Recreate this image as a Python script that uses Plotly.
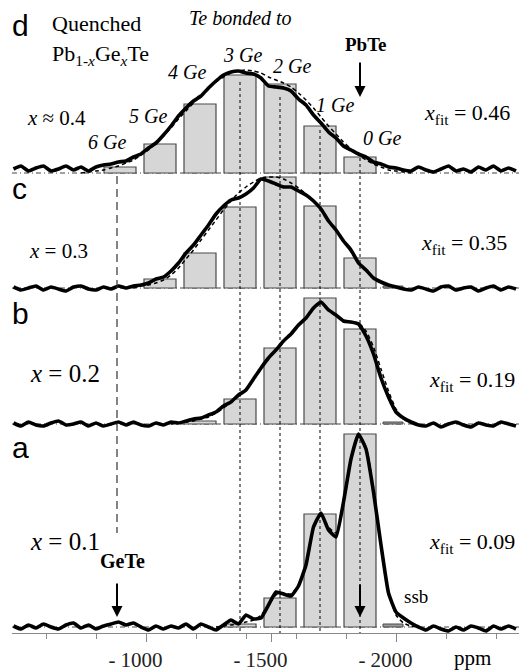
import plotly.graph_objects as go

# ---------------- data ----------------
# chemical shift sampling grid (ppm)
PPM = [-470, -500, -530, -560, -590, -620, -650, -680, -710, -740,
       -770, -800, -830, -860, -890, -920, -950, -980, -1010, -1040,
       -1070, -1100, -1130, -1160, -1190, -1220, -1250, -1280, -1310, -1340,
       -1370, -1400, -1430, -1460, -1490, -1520, -1550, -1580, -1610, -1640,
       -1670, -1700, -1730, -1760, -1790, -1820, -1850, -1880, -1910, -1940,
       -1970, -2000, -2030, -2060, -2090, -2120, -2150, -2180, -2210, -2240,
       -2270, -2300, -2330, -2360, -2390, -2420, -2450, -2480]

# measured spectra (relative intensity)
SPEC_A = [1, -2, 2, -1, 3, 0, -2, 2, 4, -1, 2, -2, 1, 3, 5, 2, 4, 0, -3, 1,
          -2, 1, -1, 3, -2, 3, 0, -3, 2,
          7, 3, 12, 8, 9, 22, 35, 33, 31, 41, 62, 100, 114, 97, 90, 125, 168,
          193, 178, 135, 82, 34, 15, 9, 4, 0,
          -3, 1, -2, -4, 0, -3, 1, -1, -4, 1, -2, 1, -2]
SPEC_B = [1, -2, 2, -1, -2, 1, 3, -1, 0, 2, -2, 1, -2, 0, 2, -1, 2, -1, -2, 1,
          -1, 2, 1,
          3, 5, 6, 9, 12, 18, 22, 29, 34, 45, 56, 66, 74, 83, 90, 99, 106, 116,
          122, 114, 109, 103, 102, 100, 88, 70, 46, 27, 12, 6, 2,
          -1, -2, 1, -3, 0, 2, -1, -3, 1, -1, -2, 2, 0, -2]
SPEC_C = [1, -2, 0, 2, -2, 1, -1, -3, 1, 2, -1, -2, 1, -1, 2,
          0, 2, 3, 5, 9, 11, 17, 25, 35, 43, 53, 63, 74, 82, 88, 90, 94, 100,
          109, 107, 104, 101, 101, 97, 93, 87, 79, 67, 58, 47, 38, 25, 18, 10,
          6, 3, 1,
          -1, -2, 1, -1, -3, 1, 2, -2, 0, 1, -3, 0, 2, -2, 1, -1]
SPEC_D = [4, 7, 2, 5, 7, 2, 4, 7, 3, 6, 2, 6, 8, 9, 11,
          12, 16, 19, 25, 30, 38, 47, 57, 65, 72, 77, 85, 92, 98, 101, 102,
          100, 99, 95, 87, 86, 85, 82, 74, 68, 58, 50, 41, 35, 27, 23, 19, 16,
          11, 9, 6, 5,
          3, 2, 6, 3, 1, 4, 7, 2, 4, 1, 6, 3, 7, 2, 5, 2]

# simulated (fit) spectra
FIT_A = [0] * 27 + [0, 1, 2, 3, 5, 7, 12, 22, 32, 34, 33, 42, 64, 98, 112,
                    100, 94, 124, 168, 192, 180, 140, 84, 36, 12, 4, 1, 0] + [0] * 13
FIT_B = [0] * 22 + [1, 2, 3, 5, 7, 11, 16, 22, 28, 34, 44, 55, 65, 74, 82, 90,
                    98, 106, 115, 121, 115, 109, 104, 102, 101, 93, 77, 55, 33,
                    15, 5, 1, 0] + [0] * 13
FIT_C = [0] * 17 + [2, 3, 5, 8, 13, 20, 29, 38, 48, 58, 68, 78, 87, 95, 101,
                    106, 110, 111, 111, 109, 105, 100, 94, 87, 78, 68, 58, 47,
                    36, 26, 17, 10, 6, 3, 1, 0] + [0] * 15
FIT_D = [0] * 10 + [1, 2, 3, 5, 7, 10, 13, 18, 23, 30, 37, 45, 54, 62, 70, 77,
                    84, 91, 96, 100, 102, 103, 102, 100, 96, 93, 90, 86, 80, 73,
                    65, 56, 47, 39, 31, 24, 18, 13, 9, 6, 3, 2, 1, 0] + [0] * 14

# Te bonded to n Ge: bar positions and heights per panel
GE_LABELS = ["6 Ge", "5 Ge", "4 Ge", "3 Ge", "2 Ge", "1 Ge", "0 Ge"]
BAR_PPM = [-896, -1056, -1216, -1376, -1536, -1696, -1856]
BARS_A = [0, 0, 0, 3, 29, 113, 193]
BARS_B = [0, 0, 3, 25, 76, 126, 95]
BARS_C = [0, 9, 35, 81, 111, 82, 30]
BARS_D = [6, 29, 69, 98, 89, 47, 16]
SSB_PPM = -1988
SSB_HEIGHTS = {"a": 3, "b": 2, "c": 2, "d": 0}

GETE_PPM = -884
PBTE_PPM = -1856

X_COMP = {"a": "x = 0.1", "b": "x = 0.2", "c": "x = 0.3", "d": "x ≈ 0.4"}
X_FIT = {"a": "0.09", "b": "0.19", "c": "0.35", "d": "0.46"}

TICK_VALS = [-1000, -1500, -2000]
TICK_TEXT = ["- 1000", "- 1500", "- 2000"]
MINOR_TICKS = [-600, -800, -1200, -1400, -1600, -1800, -2200, -2400]

# ---------------- layout helpers ----------------
W, H = 519, 672
ML, MR, MT, MB = 12, 0, 0, 39
PW, PH = W - ML - MR, H - MT - MB
X_RANGE = [-464, -2492]
SERIF = "Liberation Serif"
SANS = "Liberation Sans"

PANELS = ["a", "b", "c", "d"]
AXIS = {"a": "y", "b": "y2", "c": "y3", "d": "y4"}
BASE_PY = {"a": 627, "b": 424, "c": 288, "d": 173}
SPEC = {"a": SPEC_A, "b": SPEC_B, "c": SPEC_C, "d": SPEC_D}
FIT = {"a": FIT_A, "b": FIT_B, "c": FIT_C, "d": FIT_D}
BARS = {"a": BARS_A, "b": BARS_B, "c": BARS_C, "d": BARS_D}


def xp(px):
    return (px - ML) / PW


def yp(py):
    return (MT + PH - py) / PH


fig = go.Figure()

for p in PANELS:
    ax = AXIS[p]
    xs = [x for x, h in zip(BAR_PPM, BARS[p]) if h > 0]
    hs = [h for h in BARS[p] if h > 0]
    fig.add_trace(go.Bar(x=xs, y=hs, width=128, yaxis=ax,
                         marker=dict(color="#d6d6d6", line=dict(color="#4a4a4a", width=1.2)),
                         hoverinfo="skip"))
    if SSB_HEIGHTS[p] > 0:
        fig.add_trace(go.Bar(x=[SSB_PPM], y=[SSB_HEIGHTS[p]], width=80, yaxis=ax,
                             marker=dict(color="#9a9a9a", line=dict(color="#4a4a4a", width=1)),
                             hoverinfo="skip"))
    f = FIT[p]
    nz = [i for i, v in enumerate(f) if v != 0]
    i0, i1 = max(nz[0] - 1, 0), min(nz[-1] + 1, len(f) - 1)
    fig.add_trace(go.Scatter(x=PPM[i0:i1 + 1], y=f[i0:i1 + 1], yaxis=ax, mode="lines",
                             line=dict(color="black", width=1.5, dash="4px,3px",
                                       shape="spline", smoothing=0.6),
                             hoverinfo="skip"))
    fig.add_trace(go.Scatter(x=PPM, y=SPEC[p], yaxis=ax, mode="lines",
                             line=dict(color="black", width=3.6, shape="spline", smoothing=0.4),
                             hoverinfo="skip"))

shapes = []
for p in PANELS:
    shapes.append(dict(type="line", xref="paper", yref="paper", x0=0, x1=1,
                       y0=yp(BASE_PY[p]), y1=yp(BASE_PY[p]), layer="below",
                       line=dict(color="#444", width=1, dash="5px,3px,1px,3px")))
# dotted guide lines for 3Ge..0Ge
for k, top in zip([3, 4, 5, 6], [82, 97, 130, 158]):
    shapes.append(dict(type="line", xref="x", yref="paper", x0=BAR_PPM[k], x1=BAR_PPM[k],
                       y0=yp(top), y1=yp(MT + PH), layer="above",
                       line=dict(color="black", width=1, dash="dot")))
# GeTe dashed line
shapes.append(dict(type="line", xref="x", yref="paper", x0=GETE_PPM, x1=GETE_PPM,
                   y0=yp(176), y1=yp(533), layer="above",
                   line=dict(color="#333", width=1.2, dash="8px,5px")))

ann = []


def txt(s, px, py, size, family=SERIF, xanchor="center", color="black"):
    ann.append(dict(text=s, x=xp(px), y=yp(py), xref="paper", yref="paper",
                    showarrow=False, xanchor=xanchor, yanchor="middle",
                    font=dict(family=family, size=size, color=color)))


def arrow(ppm, py_head, length):
    ann.append(dict(text="", x=ppm, y=yp(py_head), xref="x", yref="paper",
                    showarrow=True, ax=0, ay=-length, arrowhead=2, arrowsize=1.1,
                    arrowwidth=2, arrowcolor="black"))


# panel letters
for p, py in zip(PANELS, [447, 313, 189, 25]):
    txt(p, 10, py, 30, SANS, "left")

# header texts
txt("Quenched", 50, 23, 22, SERIF, "left")
txt("Pb<sub>1-<i>x</i></sub>Ge<sub><i>x</i></sub>Te", 50, 55, 22, SERIF, "left")
txt("<i>Te bonded to</i>", 240, 18, 20)
for lab, (px, py) in zip(GE_LABELS, [(107, 142), (148, 116), (187, 72), (242, 55),
                                     (292, 66), (335, 105), (382, 138)]):
    txt("<i>" + lab + "</i>", px, py, 20)

txt("<b>PbTe</b>", 366, 44, 19)
arrow(PBTE_PPM, 97, 36)

# composition labels
for p, (px, py, sz) in zip(PANELS, [(28, 541, 25), (28, 373, 25), (27, 251, 21), (25, 118, 21)]):
    s = X_COMP[p].replace("x", "<i>x</i>", 1)
    txt(s, px, py, sz, SERIF, "left")
for p, (px, py) in zip(PANELS, [(517, 543), (517, 381), (509, 244), (512, 114)]):
    txt("<i>x</i><sub>fit</sub> = " + X_FIT[p], px, py, 22, SERIF, "right")

txt("<b>GeTe</b>", 122, 561, 20)
arrow(GETE_PPM, 617, 35)
arrow(PBTE_PPM, 617, 34)
txt("ssb", 416, 596, 19)
txt("ppm", 472, 658, 21)

pad = "\u00a0" * 4
fig.update_layout(
    width=W, height=H,
    margin=dict(l=ML, r=MR, t=MT, b=MB, pad=0),
    paper_bgcolor="white", plot_bgcolor="white",
    showlegend=False, barmode="overlay",
    shapes=shapes, annotations=ann,
    xaxis=dict(range=X_RANGE, showgrid=False, zeroline=False, showline=True,
               linecolor="#888", linewidth=1, ticks="outside", ticklen=8,
               tickcolor="#888", tickwidth=1,
               tickvals=TICK_VALS, ticktext=[t + pad for t in TICK_TEXT],
               tickfont=dict(family=SERIF, size=21, color="#222"),
               minor=dict(tickvals=MINOR_TICKS, ticks="outside", ticklen=5,
                          tickcolor="#888", tickwidth=1)),
)
for p in PANELS:
    B = BASE_PY[p] - MT
    rng = [-(PH - B), B]
    key = "yaxis" if AXIS[p] == "y" else "yaxis" + AXIS[p][1:]
    cfg = dict(range=rng, visible=False, showgrid=False, zeroline=False, fixedrange=True)
    if AXIS[p] != "y":
        cfg.update(overlaying="y", anchor="x")
    fig.update_layout(**{key: cfg})

fig.write_html("out.html",
               config={"displayModeBar": False, "staticPlot": True},
               post_script="document.body.style.margin='0px';"
                           "document.body.style.padding='0px';"
                           "document.body.style.overflow='hidden';")
